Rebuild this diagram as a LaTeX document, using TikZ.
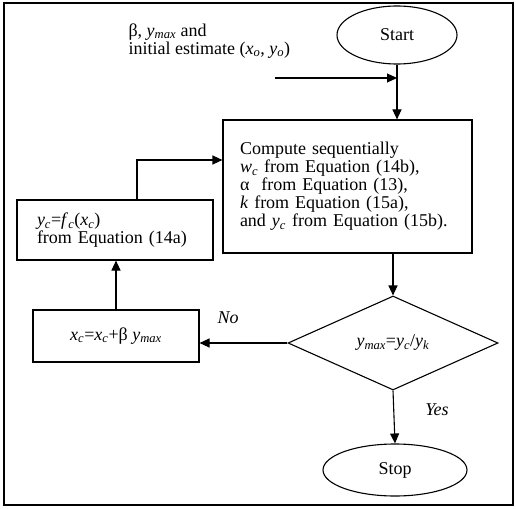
\documentclass[tikz,border=0pt]{standalone}
\usepackage{fontspec}
\setmainfont{Liberation Serif}
\usetikzlibrary{positioning,calc,shapes,arrows.meta}
\newcommand{\vsub}[2]{\textit{#1}\textsubscript{\textit{#2}}}

\begin{document}
\begin{tikzpicture}[x=1pt, y=-1pt, line width=1.1pt,
		font=\fontsize{18}{18}\selectfont,
		arr/.style={-{Triangle[length=10pt,width=9pt]}},
		procbox/.style={draw, rectangle, inner sep=6pt},
		termbox/.style={draw, ellipse, minimum width=120pt, minimum height=58pt}]
			\useasboundingbox (0,0) rectangle (516,508);
			\draw (4,3) rectangle (513,505);
			\node [termbox] (start) at (397,35) {Start};
			\node [align=left, anchor=west, inner sep=0pt] (input) at (128,41) {β, \vsub{y}{max} and\\ initial estimate (\vsub{x}{o}, \vsub{y}{o})};
			\coordinate (inl) at (275,78);
			\coordinate (jn) at (397,78);
			\node [procbox, inner xsep=17pt, minimum height=133pt, align=left, text width=215pt] (comp) at (347.5,186.5)
				{Compute sequentially\\ \vsub{w}{c} from Equation (14b),\\ α \ from Equation (13),\\ \textit{k} from Equation (15a),\\ and \vsub{y}{c} from Equation (15b).};
			\node [procbox, inner xsep=20pt, minimum height=60pt, align=left, text width=156pt] (yc) at (115,230)
				{\vsub{y}{c}=\vsub{f}{c}(\vsub{x}{c})\\ from Equation (14a)};
			\node [procbox, minimum width=166pt, minimum height=52pt] (xc) at (116,336) {\vsub{x}{c}=\vsub{x}{c}+β \vsub{y}{max}};
			\node [draw, diamond, aspect=2.3, minimum width=210pt, minimum height=94pt, inner sep=0pt] (dec) at (393,343) {\vsub{y}{max}=\vsub{y}{c}/\vsub{y}{k}};
			\node [termbox, minimum width=144pt, minimum height=52pt] (stop) at (395,470) {Stop};
			\node (no) at (228,318) {\textit{No}};
			\node (yes) at (437,410) {\textit{Yes}};
			\coordinate (fb) at (137,160);
			% connectors
			\draw [arr] (inl) -- (jn);
			\draw [arr] (start) -- (start.south |- comp.north);
			\draw [arr] (dec.north |- comp.south) -- (dec.north);
			\draw [arr] (dec.west) -- (dec.west -| xc.east);
			\draw [arr] (xc.north) -- (xc.north |- yc.south);
			\draw [arr] (yc.north -| fb) -- (fb) -- (fb -| comp.west);
			\draw [arr] (dec.south) -- (stop.north);
		\end{tikzpicture}
\end{document}
